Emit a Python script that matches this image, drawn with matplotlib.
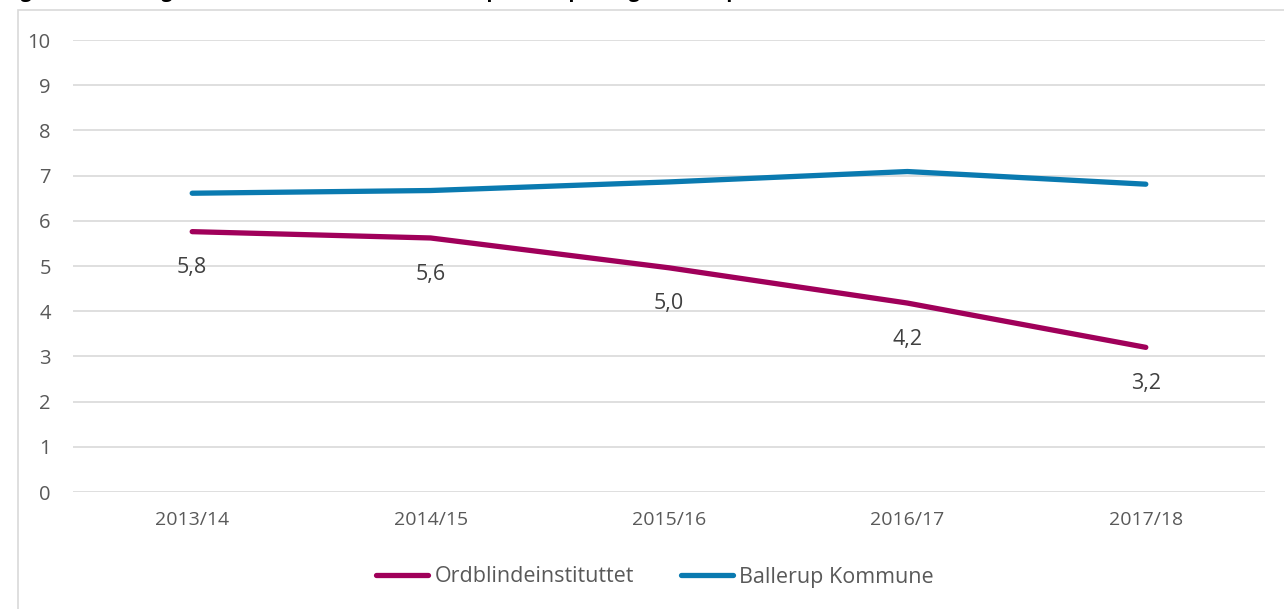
import matplotlib
matplotlib.use("Agg")
import matplotlib.pyplot as plt
from matplotlib.patches import Rectangle

years = ["2013/14", "2014/15", "2015/16", "2016/17", "2017/18"]
ordblinde = [5.76, 5.62, 4.96, 4.18, 3.2]
ballerup = [6.61, 6.67, 6.86, 7.09, 6.81]
yticks = list(range(0, 11))
series_names = ["Ordblindeinstituttet", "Ballerup Kommune"]

plt.rcParams['font.family'] = ['Open Sans', 'DejaVu Sans']
pink = "#A0005A"
blue = "#0A7AB0"
txt = "#595959"

fig = plt.figure(figsize=(12.84, 6.09), dpi=100)
fig.patch.set_facecolor("white")

# outer chart border (clipped at right and bottom in the reference)
fig.patches.append(Rectangle((18/1284, -0.01), 1.1, 1 - 10/609 + 0.01, transform=fig.transFigure,
                             fill=False, edgecolor="#d9d9d9", linewidth=1.2, zorder=0))

# title, mostly cut off at top as in the reference
fig.text(4/1284, 1.0 + 0.014, "Figur 4: Udvikling i andel elever med ordblindhed på landsplan og i Ballerup, 2013/14-2017/18",
         fontsize=14, fontweight="bold", color="black", ha="left", va="center")

ax = fig.add_axes([73/1284, 1 - 492/609, (1265 - 73)/1284, (492 - 40)/609])
x = list(range(len(years)))
ax.plot(x, ordblinde, color=pink, linewidth=3.8, solid_capstyle="round", label=series_names[0], zorder=3)
ax.plot(x, ballerup, color=blue, linewidth=3.8, solid_capstyle="round", label=series_names[1], zorder=3)

for xi, v in zip(x, ordblinde):
    ax.annotate(f"{v:.1f}".replace(".", ","), (xi, v), xytext=(0, -26), textcoords="offset points",
                ha="center", va="center", fontsize=15.5, color="#404040")

ax.set_xlim(-0.5, len(years) - 0.5)
ax.set_ylim(0, 10)
ax.set_yticks(yticks)
ax.set_xticks(x)
ax.set_xticklabels(years)
ax.tick_params(axis="both", length=0, labelsize=14, labelcolor=txt)
ax.tick_params(axis="y", labelsize=14.5, pad=16)
ax.tick_params(axis="x", pad=14)
ax.grid(axis="y", color="#d9d9d9", linewidth=1.2)
ax.set_axisbelow(True)
for s in ax.spines.values():
    s.set_visible(False)

leg = fig.legend(loc="center", bbox_to_anchor=(655/1284, 1 - 577/609), ncol=2, frameon=False,
                 fontsize=15.5, handlelength=2.4, columnspacing=2.2, handletextpad=0.3)
for t in leg.get_texts():
    t.set_color(txt)

fig.savefig("out.png", dpi=100, facecolor="white")
